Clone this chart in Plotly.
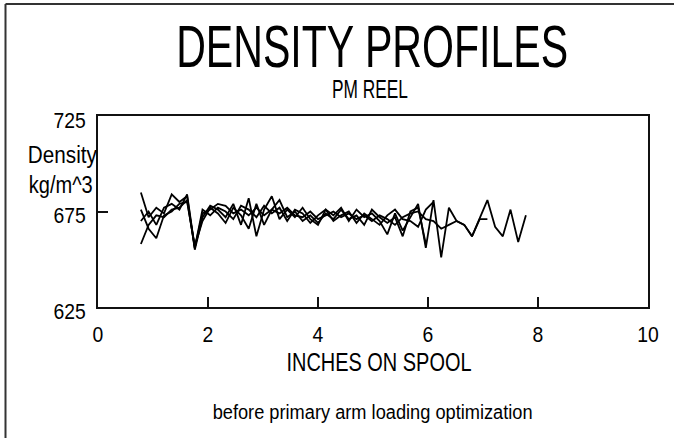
import json
import plotly.graph_objects as go

# Sample positions along the spool (inches)
inches = [0.78, 0.92, 1.06, 1.20, 1.34, 1.48, 1.62, 1.76, 1.90, 2.04,
          2.18, 2.32, 2.46, 2.60, 2.74, 2.88, 3.02, 3.16, 3.30, 3.44,
          3.58, 3.72, 3.86, 4.00, 4.14, 4.28, 4.42, 4.56, 4.70, 4.84,
          4.98, 5.12, 5.26, 5.40, 5.54, 5.68, 5.82, 5.96, 6.10, 6.24,
          6.38, 6.52, 6.66, 6.80, 6.94, 7.08, 7.22, 7.36, 7.50, 7.64, 7.78]

# Density readings (kg/m^3) for each profile; each one starts at the first position
profile_1 = [685, 672, 677, 674, 684, 680, 683, 655, 672, 678,
             676, 672, 679, 668, 682, 662, 676, 683, 671, 676,
             672, 677, 671, 668, 676, 673, 677, 670, 676, 672,
             674, 670, 663, 674, 665, 672, 679, 656, 681, 651,
             677, 670, 668, 662, 672, 681, 667, 662, 676, 659, 673]
profile_2 = [658, 668, 673, 672, 676, 677, 681, 656, 674, 676,
             679, 678, 674, 676, 673, 677, 673, 676, 674, 677,
             673, 672, 675, 671, 673, 675, 672, 674, 671, 673,
             670, 673, 671, 668, 672, 674, 675, 671, 670, 666,
             668, 670, 668, 662, 671, 671]
profile_3 = [676, 666, 661, 673, 675, 679, 680, 657, 670, 677,
             674, 669, 677, 673, 666, 679, 668, 676, 681, 672,
             675, 670, 673, 669, 674, 671, 676, 671, 673, 668,
             676, 672, 669, 672, 662, 675, 677, 658]
profile_4 = [670, 675, 668, 677, 679, 676, 684, 656, 676, 673,
             677, 675, 671, 678, 676, 672, 678, 674, 677, 670,
             676, 674, 669, 673, 676, 670, 673, 675, 669, 674,
             671, 668, 673, 676, 671, 670, 667, 676, 680]

profiles = [profile_1, profile_2, profile_3, profile_4]

x_ticks = [0, 2, 4, 6, 8, 10]
y_ticks = [625, 675, 725]

W, H = 674, 438
L, R, T, B = 98, 26, 116, 131
PW, PH = W - L - R, H - T - B


def paper(xp, yp):
    """Convert page pixel position into paper coordinates."""
    return (xp - L) / PW, (H - B - yp) / PH


fig = go.Figure()
for vals in profiles:
    fig.add_trace(go.Scatter(
        x=inches[:len(vals)], y=vals, mode="lines",
        line=dict(color="black", width=1.8), showlegend=False,
        hoverinfo="skip",
    ))

FONT = "Liberation Sans, Arial, sans-serif"

# Text blocks: (text, centre x px, centre y px, size, rendered width px)
labels = [
    ("DENSITY PROFILES", 372, 47, 60, 392),
    ("PM REEL", 370, 89, 25, 76),
    ("Density", 62, 155, 23, 69),
    ("kg/m^3", 60, 185, 23, 64),
    ("INCHES ON SPOOL", 379, 362, 25, 185),
    ("before primary arm loading optimization", 372, 412, 20, 320),
]

annotations = []
squeeze = {}
for i, (txt, xp, yp, size, width) in enumerate(labels):
    px, py = paper(xp, yp)
    annotations.append(dict(
        text=txt, x=px, y=py, xref="paper", yref="paper",
        xanchor="center", yanchor="middle", showarrow=False,
        font=dict(family=FONT, size=size, color="black"),
    ))
    squeeze[i] = width

# outer page frame (top and left edges), kept inside the page
fx0, fy0 = paper(5.5, 4)
fx1, fy1 = paper(W, H)
cx0, cy0 = paper(W - 12, 8)
shapes = [
    # keep the right page margin clear
    dict(type="rect", xref="paper", yref="paper", x0=cx0, y0=cy0, x1=fx1, y1=fy1,
         fillcolor="white", line=dict(width=0), layer="above"),
    dict(type="line", xref="paper", yref="paper", x0=fx0, y0=fy0, x1=fx1, y1=fy0,
         line=dict(color="#333333", width=2)),
    dict(type="line", xref="paper", yref="paper", x0=fx0, y0=fy0, x1=fx0, y1=fy1,
         line=dict(color="#333333", width=2)),
]

axis_common = dict(
    showline=True, linecolor="#111111", linewidth=1.5, mirror=True,
    ticks="inside", ticklen=10, tickwidth=1.5, tickcolor="#111111",
    showgrid=False, zeroline=False,
    tickfont=dict(family=FONT, size=22, color="black"),
)

fig.update_layout(
    width=W, height=H,
    margin=dict(l=L, r=R, t=T, b=B, pad=0),
    paper_bgcolor="white", plot_bgcolor="white",
    xaxis=dict(range=[0, 10], tickvals=x_ticks, ticktext=[str(v) for v in x_ticks],
               ticklabelstandoff=7, **axis_common),
    yaxis=dict(range=[625, 725], tickvals=y_ticks, ticktext=[str(v) for v in y_ticks],
               ticklabelstandoff=6, ticklabelshift=4, **axis_common),
    annotations=annotations,
    shapes=shapes,
)

post = """
document.documentElement.style.overflow = 'hidden';
document.body.style.overflow = 'hidden';
document.body.style.margin = '0';
var gd = document.getElementById('{plot_id}');
var widths = %s;
function squeezeText() {
  gd.querySelectorAll('g.annotation').forEach(function (g) {
    var idx = g.getAttribute('data-index');
    var w = widths[idx];
    if (!w) return;
    var t = g.querySelector('text.annotation-text');
    if (!t) return;
    t.setAttribute('textLength', w);
    t.setAttribute('lengthAdjust', 'spacingAndGlyphs');
  });
  gd.querySelectorAll('g.xtick text, g.ytick text').forEach(function (t) {
    if (!t.getAttribute('data-w0')) {
      t.setAttribute('data-w0', t.getComputedTextLength());
    }
    var w0 = parseFloat(t.getAttribute('data-w0'));
    t.setAttribute('textLength', w0 * 0.88);
    t.setAttribute('lengthAdjust', 'spacingAndGlyphs');
  });
}
squeezeText();
gd.on('plotly_afterplot', squeezeText);
""" % json.dumps(squeeze)

fig.write_html("out.html", post_script=post, config={"displayModeBar": False})
